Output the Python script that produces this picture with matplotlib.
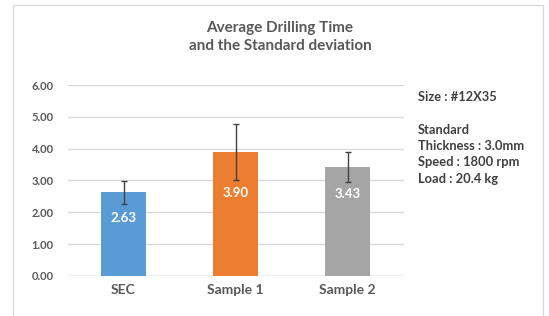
import matplotlib.pyplot as plt
from matplotlib.patches import Rectangle

# data
samples = ['SEC', 'Sample 1', 'Sample 2']
avg_time = [2.63, 3.90, 3.43]
std_dev = [0.36, 0.88, 0.47]
label_y = [1.82, 2.6, 2.57]
bar_colors = ['#5B9BD5', '#ED7D31', '#A5A5A5']
y_ticks = [0, 1, 2, 3, 4, 5, 6]
notes = ['Size : #12X35', '', 'Standard', 'Thickness : 3.0mm', 'Speed : 1800 rpm', 'Load : 20.4 kg']

plt.rcParams['font.family'] = ['Lato', 'DejaVu Sans']

fig = plt.figure(figsize=(5.49, 3.16), dpi=100)
ax = fig.add_axes([0.123, 0.127, 0.612, 0.604])

# outer chart frame
fig.patches.append(Rectangle((13 / 549, -0.1), 530 / 549, 1.1 - 5 / 316,
                             transform=fig.transFigure, fill=False,
                             edgecolor='#D9D9D9', linewidth=1))

x = range(len(samples))
ax.bar(x, avg_time, width=0.4, color=bar_colors, zorder=2)
ax.errorbar(x, avg_time, yerr=std_dev, fmt='none', ecolor='#404040',
            elinewidth=1, capsize=2, capthick=1, zorder=3)

for i, v in enumerate(avg_time):
    ax.text(i, label_y[i], f'{v:.2f}', ha='center', va='center', color='white',
            fontsize=9.5, fontweight='bold', zorder=4)

ax.set_xlim(-0.5, 2.5)
ax.set_ylim(0, 6)
ax.set_yticks(y_ticks)
ax.set_yticklabels([f'{t:.2f}' for t in y_ticks], fontweight='bold')
ax.set_xticks(list(x))
ax.set_xticklabels(samples, fontweight='bold')
ax.grid(axis='y', color='#D9D9D9', linewidth=1, zorder=0)
for s in ['top', 'right', 'left', 'bottom']:
    ax.spines[s].set_visible(False)
ax.axhline(0, color='#D9D9D9', linewidth=1, zorder=1)
ax.tick_params(axis='y', length=0, labelsize=8, labelcolor='#595959', pad=10)
ax.tick_params(axis='x', length=0, labelsize=10, labelcolor='#595959', pad=6)

fig.text(0.51, 0.883, 'Average Drilling Time\nand the Standard deviation',
         ha='center', va='center', fontsize=11, color='#595959',
         fontweight='bold', linespacing=1.4)

y0 = 1 - 97 / 316
for i, line in enumerate(notes):
    fig.text(418 / 549, y0 - i * 16.3 / 316, line, ha='left', va='center',
             fontsize=9.3, color='#404040', fontweight='bold')

fig.savefig('out.png', dpi=100)
